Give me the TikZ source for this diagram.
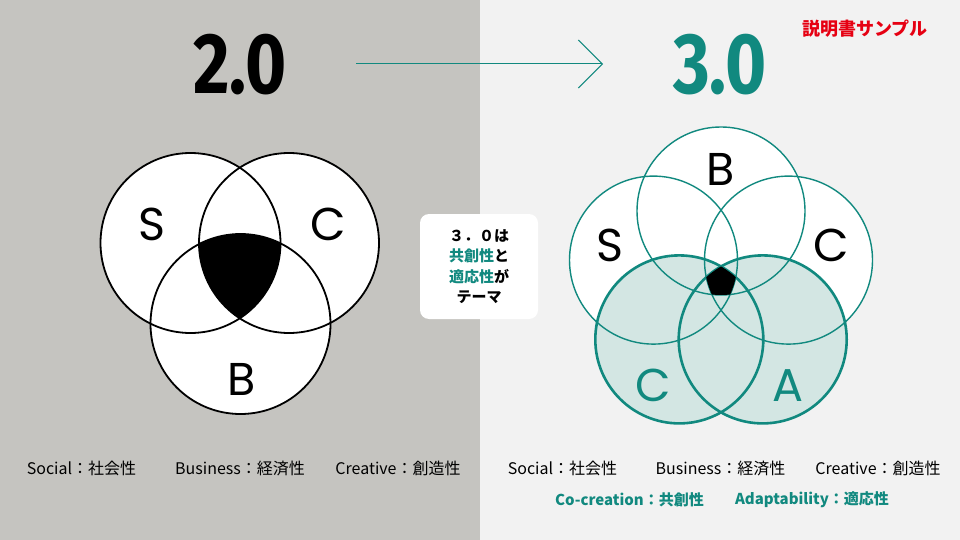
\documentclass[tikz,border=0pt]{standalone}
\usepackage{fontspec}
\setmainfont{Noto Sans CJK JP}
\newfontfamily\jpfont{Noto Sans CJK JP}
\newfontfamily\titlefont{Fira Sans}[FakeStretch=0.82]
\newfontfamily\letterfont{Poppins}
\usetikzlibrary{arrows.meta}

\definecolor{leftbg}{HTML}{C5C4C0}
\definecolor{rightbg}{HTML}{F2F2F2}
\definecolor{tealmain}{HTML}{11897F}
\definecolor{tealfill}{HTML}{D3E6E3}
\definecolor{samplered}{HTML}{E60012}

\tikzset{
	title/.style={font=\titlefont\fontsize{86}{86}\selectfont\bfseries, inner sep=0pt},
	letter/.style={font=\letterfont\fontsize{46}{46}\selectfont, inner sep=0pt},
	legend/.style={font=\jpfont\fontsize{16}{19}\selectfont, inner sep=0pt},
	legend accent/.style={legend, font=\jpfont\fontsize{15}{19}\selectfont\bfseries, text=tealmain},
	themebox/.style={fill=white, rounded corners=9pt, minimum width=118pt, minimum height=105pt,
		align=center, inner sep=0pt, font=\jpfont\fontsize{15}{20.4}\selectfont\bfseries},
	oldline/.style={draw=black, line width=1.8pt},
	newline/.style={draw=tealmain, line width=1.4pt},
	newline thick/.style={draw=tealmain, line width=2.6pt}
}

\begin{document}
\begin{tikzpicture}[x=1pt,y=-1pt]
	% Backgrounds
	\fill[leftbg] (0,0) rectangle (480,540);
	\fill[rightbg] (480,0) rectangle (960,540);
	\useasboundingbox (0,0) rectangle (960,540);

	% Titles and arrow
	\node[title] (old title) at (240,64.5) {2.0};
	\node[title, text=tealmain] (new title) at (720,64.5) {3.0};
	\coordinate (arrow start) at (356,64);
	\coordinate (arrow end) at (603,64);
	\draw[tealmain, line width=1pt, -{Straight Barb[length=24pt,width=48pt]}] (arrow start) -- (arrow end);

	\node[font=\jpfont\fontsize{18}{18}\selectfont\bfseries, text=samplered, inner sep=0pt] (sample) at (865,28.5) {説明書サンプル};

	% Venn 2.0
	\coordinate (old S) at (190.5,243);
	\coordinate (old C) at (289,243);
	\coordinate (old B) at (240.5,324);
	\fill[white] (old S) circle (90pt) (old C) circle (90pt) (old B) circle (90pt);
	\begin{scope}
		\clip (old S) circle (90pt);
		\clip (old C) circle (90pt);
		\fill[black] (old B) circle (90pt);
	\end{scope}
	\draw[oldline] (old S) circle (90pt);
	\draw[oldline] (old C) circle (90pt);
	\draw[oldline] (old B) circle (90pt);
	\node[letter] (old S label) at (151.7,224) {S};
	\node[letter] (old C label) at (328,224) {C};
	\node[letter] (old B label) at (241.7,379) {B};

	% Venn 3.0 (five circles on a pentagon round (721,282))
	\coordinate (new B) at (721,211);
	\coordinate (new S) at (653.5,260.1);
	\coordinate (new C) at (788.5,260.1);
	\coordinate (new Co) at (679.3,339.4);
	\coordinate (new A) at (762.7,339.4);
	\fill[white] (new B) circle (84pt) (new S) circle (84pt) (new C) circle (84pt);
	\fill[tealfill] (new Co) circle (84pt) (new A) circle (84pt);
	\draw[newline] (new B) circle (84pt);
	\draw[newline] (new S) circle (84pt);
	\draw[newline] (new C) circle (84pt);
	\draw[newline thick] (new Co) circle (84pt);
	\draw[newline thick] (new A) circle (84pt);
	\begin{scope}
		\clip (new B) circle (84pt);
		\clip (new S) circle (84pt);
		\clip (new C) circle (84pt);
		\clip (new Co) circle (84pt);
		\fill[black] (new A) circle (84pt);
	\end{scope}
	\node[letter] (new B label) at (721,169) {B};
	\node[letter] (new S label) at (610,245.7) {S};
	\node[letter] (new C label) at (831.7,245.7) {C};
	\node[letter, text=tealmain] (new Co label) at (653.3,385.7) {C};
	\node[letter, text=tealmain] (new A label) at (788.3,385.7) {A};

	% Theme box
	\node[themebox] (theme) at (479,266.5) {３．０は\\\textcolor{tealmain}{共創性}と\\\textcolor{tealmain}{適応性}が\\テーマ};

	% Legends
	\node[legend] (old social) at (81.5,468) {Social：社会性};
	\node[legend] (old business) at (240,468) {Business：経済性};
	\node[legend] (old creative) at (398,468) {Creative：創造性};
	\node[legend] (new social) at (562.5,468) {Social：社会性};
	\node[legend] (new business) at (720.5,468) {Business：経済性};
	\node[legend] (new creative) at (878,468) {Creative：創造性};
	\node[legend accent] (new cocreation) at (629.5,500) {Co-creation：共創性};
	\node[legend accent] (new adaptability) at (812,500) {Adaptability：適応性};
\end{tikzpicture}
\end{document}
